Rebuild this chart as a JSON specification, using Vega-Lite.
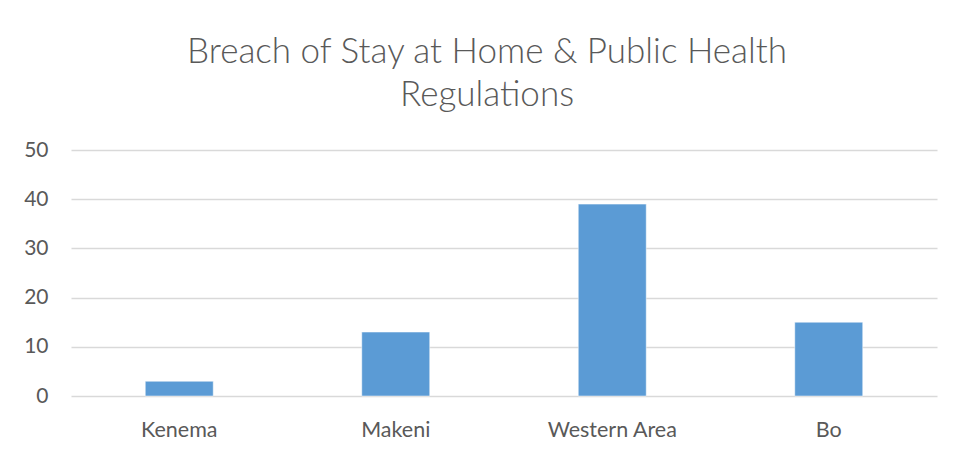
{
  "$schema": "https://vega.github.io/schema/vega-lite/v6.json",
  "width": 866,
  "height": 246,
  "autosize": "none",
  "padding": {"left": 71, "top": 150, "right": 17, "bottom": 59},
  "background": "white",
  "title": {
    "text": ["Breach of Stay at Home & Public Health", "Regulations"],
    "font": "Lato",
    "fontWeight": 300,
    "fontSize": 35,
    "color": "#595959",
    "anchor": "middle",
    "dx": -17,
    "baseline": "alphabetic",
    "lineHeight": 43,
    "offset": -2
  },
  "data": {
    "values": [
      {"region": "Kenema", "count": 3},
      {"region": "Makeni", "count": 13},
      {"region": "Western Area", "count": 39},
      {"region": "Bo", "count": 15}
    ]
  },
  "mark": {"type": "bar", "color": "#5B9BD5", "stroke": "#ffffff", "strokeWidth": 0.5},
  "encoding": {
    "x": {
      "field": "region",
      "type": "nominal",
      "sort": null,
      "scale": {"paddingInner": 0.686, "paddingOuter": 0.343},
      "axis": {
        "title": null,
        "labelAngle": 0,
        "ticks": false,
        "domain": false,
        "grid": false,
        "labelFont": "Lato",
        "labelFontSize": 21.5,
        "labelColor": "#595959",
        "labelBaseline": "alphabetic",
        "labelPadding": 40
      }
    },
    "y": {
      "field": "count",
      "type": "quantitative",
      "scale": {"domain": [0, 50], "nice": false},
      "axis": {
        "title": null,
        "values": [0, 10, 20, 30, 40, 50],
        "ticks": false,
        "domain": false,
        "grid": true,
        "gridColor": "#D9D9D9",
        "gridWidth": 1.5,
        "labelFont": "Lato",
        "labelFontSize": 21,
        "labelColor": "#595959",
        "labelPadding": 23
      }
    }
  },
  "config": {"view": {"stroke": null}}
}
